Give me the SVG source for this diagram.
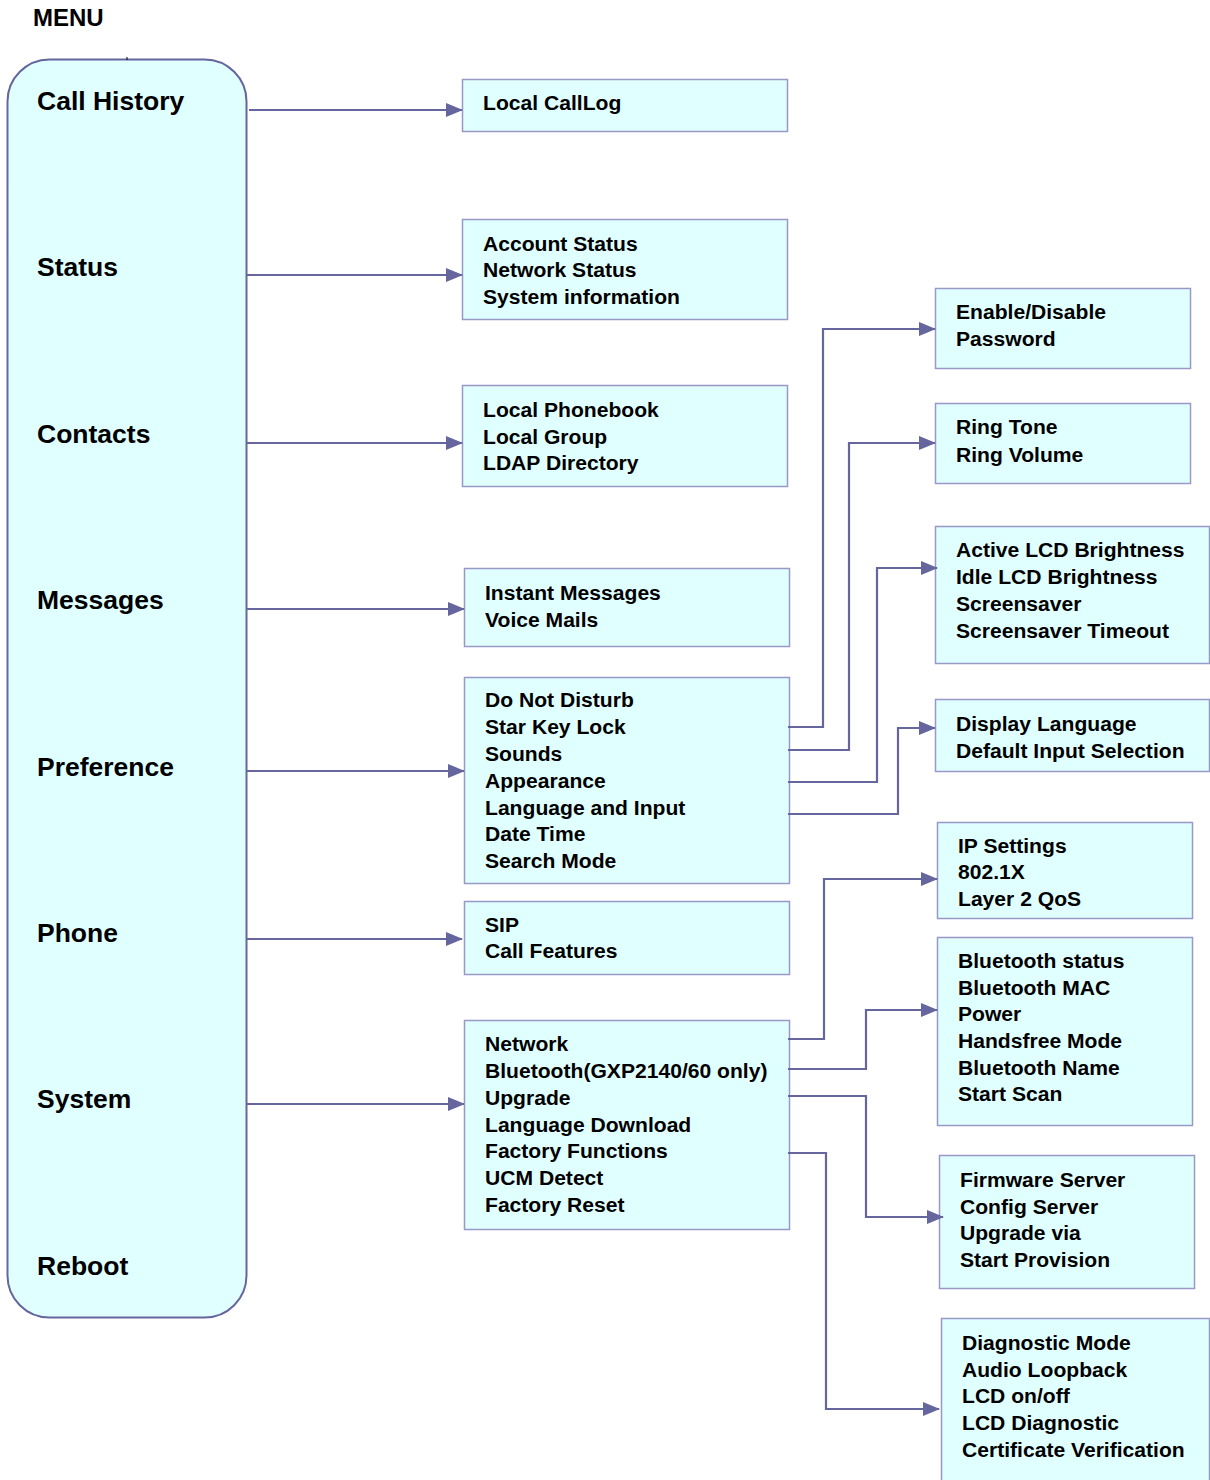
<svg xmlns="http://www.w3.org/2000/svg" width="1210" height="1480" viewBox="0 0 1210 1480">
<defs>
<marker id="ah" markerWidth="17" markerHeight="14" refX="16" refY="7" orient="auto" markerUnits="userSpaceOnUse">
<path d="M0,0 L17,7 L0,14 Z" fill="#66669e"/>
</marker>
<style>
.main{font-family:"Liberation Sans",Arial,sans-serif;font-weight:bold;font-size:26.5px;fill:#000}
.sub{font-family:"Liberation Sans",Arial,sans-serif;font-weight:bold;font-size:21.1px;fill:#000}
.box{fill:#e0ffff;stroke:#9999c8;stroke-width:1.5}
.con{fill:none;stroke:#66669e;stroke-width:2}
.arr{fill:none;stroke:#66669e;stroke-width:2.2;marker-end:url(#ah)}
</style>
</defs>
<rect width="1210" height="1480" fill="#fff"/>
<text x="33" y="26" font-family="Liberation Sans, Arial, sans-serif" font-weight="bold" font-size="24px">MENU</text>

<g id="menu">
<rect x="7.5" y="59.5" width="239" height="1258" rx="42" ry="42" fill="#e0ffff" stroke="#66669e" stroke-width="2"/>
<line x1="127" y1="57" x2="127" y2="60" stroke="#000" stroke-width="1"/>
<text class="main" x="37" y="110">Call History</text>
<text class="main" x="37" y="276">Status</text>
<text class="main" x="37" y="443">Contacts</text>
<text class="main" x="37" y="609">Messages</text>
<text class="main" x="37" y="776">Preference</text>
<text class="main" x="37" y="942">Phone</text>
<text class="main" x="37" y="1108">System</text>
<text class="main" x="37" y="1275">Reboot</text>
</g>

<g id="calllog">
<rect class="box" x="462.5" y="79.5" width="325" height="52"/>
<text class="sub" x="483" y="110">Local CallLog</text>
</g>
<g id="status">
<rect class="box" x="462.5" y="219.5" width="325" height="100"/>
<text class="sub" x="483" y="251">Account Status</text>
<text class="sub" x="483" y="277">Network Status</text>
<text class="sub" x="483" y="304">System information</text>
</g>
<g id="contacts">
<rect class="box" x="462.5" y="385.5" width="325" height="101"/>
<text class="sub" x="483" y="417">Local Phonebook</text>
<text class="sub" x="483" y="444">Local Group</text>
<text class="sub" x="483" y="470">LDAP Directory</text>
</g>
<g id="messages">
<rect class="box" x="464.5" y="568.5" width="325" height="78"/>
<text class="sub" x="485" y="600">Instant Messages</text>
<text class="sub" x="485" y="627">Voice Mails</text>
</g>
<g id="preference">
<rect class="box" x="464.5" y="677.5" width="325" height="206"/>
<text class="sub" x="485" y="707">Do Not Disturb</text>
<text class="sub" x="485" y="734">Star Key Lock</text>
<text class="sub" x="485" y="761">Sounds</text>
<text class="sub" x="485" y="788">Appearance</text>
<text class="sub" x="485" y="815">Language and Input</text>
<text class="sub" x="485" y="841">Date Time</text>
<text class="sub" x="485" y="868">Search Mode</text>
</g>
<g id="phone">
<rect class="box" x="464.5" y="901.5" width="325" height="73"/>
<text class="sub" x="485" y="932">SIP</text>
<text class="sub" x="485" y="958">Call Features</text>
</g>
<g id="system">
<rect class="box" x="464.5" y="1020.5" width="325" height="209"/>
<text class="sub" x="485" y="1051">Network</text>
<text class="sub" x="485" y="1078">Bluetooth(GXP2140/60 only)</text>
<text class="sub" x="485" y="1105">Upgrade</text>
<text class="sub" x="485" y="1132">Language Download</text>
<text class="sub" x="485" y="1158">Factory Functions</text>
<text class="sub" x="485" y="1185">UCM Detect</text>
<text class="sub" x="485" y="1212">Factory Reset</text>
</g>

<g id="password">
<rect class="box" x="935.5" y="288.5" width="255" height="80"/>
<text class="sub" x="956" y="319">Enable/Disable</text>
<text class="sub" x="956" y="346">Password</text>
</g>
<g id="sounds">
<rect class="box" x="935.5" y="403.5" width="255" height="80"/>
<text class="sub" x="956" y="434">Ring Tone</text>
<text class="sub" x="956" y="462">Ring Volume</text>
</g>
<g id="appearance">
<rect class="box" x="935.5" y="526.5" width="274" height="137"/>
<text class="sub" x="956" y="557">Active LCD Brightness</text>
<text class="sub" x="956" y="584">Idle LCD Brightness</text>
<text class="sub" x="956" y="611">Screensaver</text>
<text class="sub" x="956" y="638">Screensaver Timeout</text>
</g>
<g id="language">
<rect class="box" x="935.5" y="699.5" width="274" height="72"/>
<text class="sub" x="956" y="731">Display Language</text>
<text class="sub" x="956" y="758">Default Input Selection</text>
</g>
<g id="network">
<rect class="box" x="937.5" y="822.5" width="255" height="96"/>
<text class="sub" x="958" y="853">IP Settings</text>
<text class="sub" x="958" y="879">802.1X</text>
<text class="sub" x="958" y="906">Layer 2 QoS</text>
</g>
<g id="bluetooth">
<rect class="box" x="937.5" y="937.5" width="255" height="188"/>
<text class="sub" x="958" y="968">Bluetooth status</text>
<text class="sub" x="958" y="995">Bluetooth MAC</text>
<text class="sub" x="958" y="1021">Power</text>
<text class="sub" x="958" y="1048">Handsfree Mode</text>
<text class="sub" x="958" y="1075">Bluetooth Name</text>
<text class="sub" x="958" y="1101">Start Scan</text>
</g>
<g id="upgrade">
<rect class="box" x="939.5" y="1155.5" width="255" height="133"/>
<text class="sub" x="960" y="1187">Firmware Server</text>
<text class="sub" x="960" y="1214">Config Server</text>
<text class="sub" x="960" y="1240">Upgrade via</text>
<text class="sub" x="960" y="1267">Start Provision</text>
</g>
<g id="factory">
<rect class="box" x="941.5" y="1318.5" width="268" height="175"/>
<text class="sub" x="962" y="1350">Diagnostic Mode</text>
<text class="sub" x="962" y="1377">Audio Loopback</text>
<text class="sub" x="962" y="1403">LCD on/off</text>
<text class="sub" x="962" y="1430">LCD Diagnostic</text>
<text class="sub" x="962" y="1457">Certificate Verification</text>
</g>

<g id="connectors">
<path class="arr" d="M249,110 H462"/>
<path class="arr" d="M247,275 H462"/>
<path class="arr" d="M247,443 H462"/>
<path class="arr" d="M247,609 H464"/>
<path class="arr" d="M247,771 H464"/>
<path class="arr" d="M247,939 H462"/>
<path class="arr" d="M247,1104 H464"/>

<path class="arr" d="M788,727 H823 V329 H935"/>
<path class="arr" d="M788,750 H849 V443 H935"/>
<path class="arr" d="M788,782 H877 V568 H937"/>
<path class="arr" d="M788,814 H898 V728 H935"/>

<path class="arr" d="M788,1039 H824 V879 H937"/>
<path class="arr" d="M788,1069 H866 V1010 H937"/>
<path class="arr" d="M788,1096 H866 V1217 H943"/>
<path class="arr" d="M788,1153 H826 V1409 H939"/>
</g>
</svg>
